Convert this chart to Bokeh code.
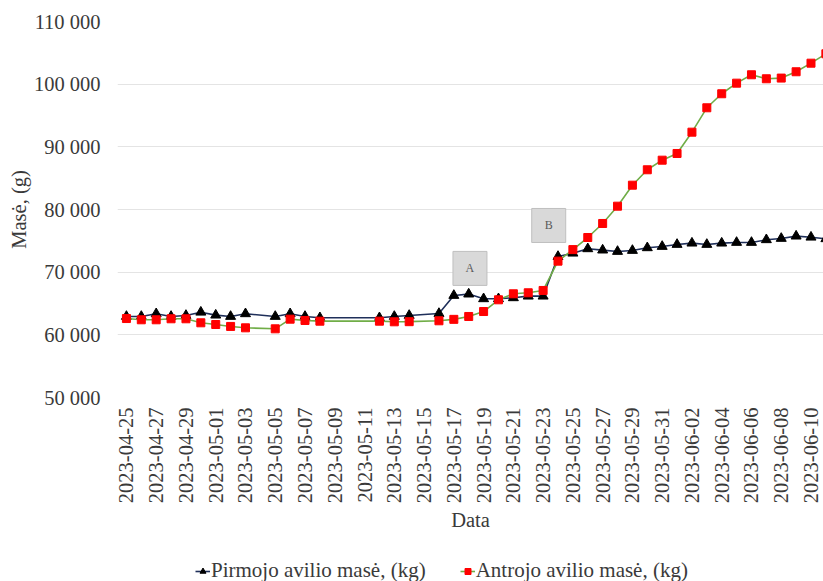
import pandas as pd
from math import pi
from bokeh.plotting import figure
from bokeh.layouts import column
from bokeh.models import (FixedTicker, DatetimeTickFormatter, Range1d, Legend,
                          LegendItem, ColumnDataSource)
from bokeh.core.properties import value
from bokeh.embed import file_html
from bokeh.resources import INLINE

# ---------------- data ----------------
dates = [
    "2023-04-25", "2023-04-26", "2023-04-27", "2023-04-28", "2023-04-29",
    "2023-04-30", "2023-05-01", "2023-05-02", "2023-05-03", "2023-05-05",
    "2023-05-06", "2023-05-07", "2023-05-08", "2023-05-12", "2023-05-13",
    "2023-05-14", "2023-05-16", "2023-05-17", "2023-05-18", "2023-05-19",
    "2023-05-20", "2023-05-21", "2023-05-22", "2023-05-23", "2023-05-24",
    "2023-05-25", "2023-05-26", "2023-05-27", "2023-05-28", "2023-05-29",
    "2023-05-30", "2023-05-31", "2023-06-01", "2023-06-02", "2023-06-03",
    "2023-06-04", "2023-06-05", "2023-06-06", "2023-06-07", "2023-06-08",
    "2023-06-09", "2023-06-10", "2023-06-11",
]
pirmojo = [
    62930, 62930, 63360, 62930, 63090, 63610, 63140, 62930, 63360, 62930,
    63360, 62930, 62720, 62720, 62930, 63090, 63400, 66280, 66500, 65750,
    65750, 65910, 66170, 66170, 72500, 73030, 73730, 73520, 73300, 73460,
    73890, 74100, 74420, 74630, 74420, 74630, 74740, 74740, 75170, 75380,
    75750, 75580, 75330,
]
antrojo = [
    62600, 62400, 62400, 62560, 62560, 61920, 61650, 61340, 61120, 60960,
    62500, 62290, 62180, 62180, 62080, 62100, 62240, 62470, 62930, 63720,
    65590, 66550, 66710, 67080, 71760, 73600, 75530, 77770, 80530, 83880,
    86340, 87870, 88940, 92340, 96230, 98470, 100160, 101500, 100860, 100970,
    101980, 103350, 104850,
]
x_tick_labels = [
    "2023-04-25", "2023-04-27", "2023-04-29", "2023-05-01", "2023-05-03",
    "2023-05-05", "2023-05-07", "2023-05-09", "2023-05-11", "2023-05-13",
    "2023-05-15", "2023-05-17", "2023-05-19", "2023-05-21", "2023-05-23",
    "2023-05-25", "2023-05-27", "2023-05-29", "2023-05-31", "2023-06-02",
    "2023-06-04", "2023-06-06", "2023-06-08", "2023-06-10",
]
y_tick_values = [50000, 60000, 70000, 80000, 90000, 100000, 110000]
y_tick_labels = ["50 000", "60 000", "70 000", "80 000", "90 000", "100 000", "110 000"]
series_names = ["Pirmojo avilio masė, (kg)", "Antrojo avilio masė, (kg)"]
annot_labels = ["A", "B"]
annot_dates = ["2023-05-18 02:00", "2023-05-23 09:00"]
annot_values = [70600, 77450]

# ---------------- helpers ----------------
def to_ms(s):
    return pd.Timestamp(s).value / 1e6

DAY = 86400000.0
FONT = "Liberation Serif"
TXT = "#3a3a3a"
FS = "20.5px"
NAVY = "#1f2f5a"
GREEN = "#70ad47"
RED = "#ff0000"
LEFT = 117

src = ColumnDataSource(dict(x=[to_ms(d) for d in dates], a=pirmojo, b=antrojo))

x_start = to_ms(dates[0]) - 0.6 * DAY
x_end = to_ms(dates[0]) + 46.84 * DAY

p = figure(width=823, height=549, x_axis_type="datetime",
           output_backend="svg", toolbar_location=None,
           x_range=Range1d(x_start, x_end), y_range=Range1d(50000, 110000),
           min_border_left=LEFT, min_border_right=0, min_border_top=21,
           min_border_bottom=152)
p.outline_line_color = None
p.background_fill_color = "white"
p.border_fill_color = "white"

# grid
p.xgrid.grid_line_color = None
p.ygrid.grid_line_color = "#e4e4e4"
p.ygrid.grid_line_width = 1

# y axis
p.yaxis.ticker = FixedTicker(ticks=y_tick_values)
p.yaxis.major_label_overrides = {v: l for v, l in zip(y_tick_values, y_tick_labels)}
p.yaxis.axis_label = "Masė, (g)"

# x axis
p.xaxis.ticker = FixedTicker(ticks=[to_ms(t) for t in x_tick_labels])
fmt = "%Y-%m-%d"
p.xaxis.formatter = DatetimeTickFormatter(days=fmt, months=fmt, hours=fmt,
                                          years=fmt, hourmin=fmt, minutes=fmt)
p.xaxis.major_label_orientation = pi / 2
p.xaxis.axis_label = "Data"

for ax in (p.xaxis, p.yaxis):
    ax.axis_line_color = None
    ax.major_tick_line_color = None
    ax.minor_tick_line_color = None
    ax.major_tick_out = 0
    ax.major_tick_in = 0
    ax.minor_tick_out = 0
    ax.minor_tick_in = 0
    ax.major_label_text_font = FONT
    ax.major_label_text_font_size = FS
    ax.major_label_text_color = TXT
    ax.axis_label_text_font = FONT
    ax.axis_label_text_font_size = FS
    ax.axis_label_text_font_style = "normal"
    ax.axis_label_text_color = TXT
p.yaxis.major_label_standoff = 17
p.yaxis.axis_label_standoff = 1
p.xaxis.major_label_standoff = 10
p.xaxis.axis_label_standoff = 3

# series
l1 = p.line("x", "a", source=src, line_color=NAVY, line_width=1.6)
s1 = p.scatter("x", "a", source=src, marker="triangle", size=10,
               fill_color="black", line_color="black")
l2 = p.line("x", "b", source=src, line_color=GREEN, line_width=1.6)
s2 = p.scatter("x", "b", source=src, marker="square", size=8,
               fill_color=RED, line_color=RED)

# annotation boxes
asrc = ColumnDataSource(dict(x=[to_ms(d) for d in annot_dates], y=annot_values,
                             t=annot_labels))
p.rect("x", "y", source=asrc, width=34, height=34, width_units="screen",
       height_units="screen", fill_color="#d9d9d9", line_color="#bfbfbf",
       line_width=1)
p.text("x", "y", text="t", source=asrc, text_align="center",
       text_baseline="middle", text_font=value(FONT), text_font_size="12px",
       text_color="#595959")

# legend strip (own small figure under the chart)
q = figure(width=823, height=32, output_backend="svg", toolbar_location=None,
           x_range=Range1d(0, 1), y_range=Range1d(0, 1),
           x_axis_location=None, y_axis_location=None,
           min_border_left=LEFT, min_border_right=0, min_border_top=0,
           min_border_bottom=0)
q.grid.visible = False
q.outline_line_color = None
q.background_fill_color = "white"
q.border_fill_color = "white"
ql1 = q.line(x=[-5, -4], y=[-5, -4], line_color=NAVY, line_width=1.6)
qs1 = q.scatter(x=[-5], y=[-5], marker="triangle", size=7, fill_color="black",
                line_color="black")
ql2 = q.line(x=[-5, -4], y=[-5, -4], line_color=GREEN, line_width=1.6)
qs2 = q.scatter(x=[-5], y=[-5], marker="square", size=6, fill_color=RED,
                line_color=RED)
legend = Legend(items=[LegendItem(label=series_names[0], renderers=[ql1, qs1]),
                       LegendItem(label=series_names[1], renderers=[ql2, qs2])],
                orientation="horizontal", location=(195 - LEFT, -2),
                label_text_font=FONT, label_text_font_size="21px",
                label_text_color=TXT, border_line_color=None,
                background_fill_alpha=0, glyph_width=15, glyph_height=18,
                label_height=18, label_standoff=1, spacing=34, padding=0,
                margin=0)
q.add_layout(legend, "center")

open("out.html", "w").write(file_html(column(p, q, spacing=0), INLINE))
